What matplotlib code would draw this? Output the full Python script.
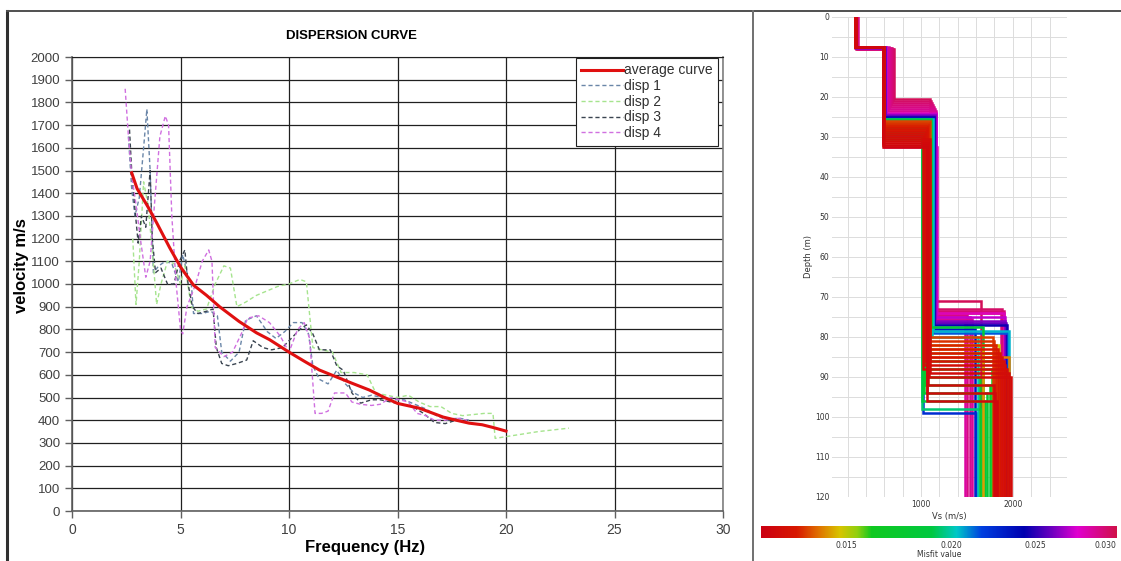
import numpy as np
import matplotlib
matplotlib.use('Agg')
import matplotlib.pyplot as plt
from matplotlib.colors import LinearSegmentedColormap
from matplotlib.lines import Line2D

plt.rcParams['font.family'] = ['Liberation Sans', 'DejaVu Sans']

# --- curva de dispersao (painel esquerdo) ---
f_avg = [2.75, 3.0, 3.5, 3.9, 4.5, 5.0, 5.6, 6.2, 6.8, 7.7, 8.5, 9.1, 10.0, 10.7, 11.4,
         12.2, 12.9, 13.7, 14.4, 15.0, 16.0, 17.1, 17.7, 18.3, 18.9, 19.4, 20.0]
v_avg = [1490, 1420, 1340, 1270, 1160, 1075, 995, 950, 900, 835, 785, 755, 700, 660, 621,
         590, 563, 533, 500, 474, 453, 414, 400, 387, 380, 368, 352]

f1 = [2.6, 2.75, 2.9, 3.1, 3.3, 3.45, 3.6, 3.75, 4.0, 4.3, 4.6, 4.9, 5.1, 5.3, 5.5, 5.6,
      6.0, 6.4, 6.7, 6.9, 7.3, 7.7, 8.0, 8.5, 9.0, 9.4, 9.8, 10.2, 10.6, 10.9, 11.1, 11.4,
      11.8, 12.2, 12.6, 13.0, 13.4, 13.8, 14.3, 14.8, 15.3, 15.8, 16.3, 16.8, 17.3, 17.8, 18.3]
v1 = [1650, 1420, 1300, 1380, 1600, 1770, 1500, 1050, 1080, 1100, 1090, 1010, 1130, 1050,
      1000, 870, 870, 880, 860, 700, 660, 700, 840, 860, 790, 760, 790, 830, 830, 780, 640,
      580, 560, 620, 560, 520, 500, 510, 500, 490, 490, 470, 450, 420, 400, 410, 400]

f2 = [2.8, 2.95, 3.1, 3.3, 3.5, 3.7, 3.9, 4.1, 4.4, 4.7, 5.0, 5.2, 5.5, 5.8, 6.2, 6.6, 7.0,
      7.3, 7.6, 8.0, 8.5, 9.0, 9.5, 10.0, 10.5, 10.8, 11.1, 11.5, 12.0, 12.4, 13.0, 13.6,
      14.0, 14.5, 15.0, 15.5, 16.0, 16.5, 17.0, 17.5, 18.0, 18.5, 19.0, 19.4, 19.5, 20.5,
      21.5, 22.9]
v2 = [1200, 910, 1100, 1450, 1350, 1150, 910, 1000, 1100, 1090, 1000, 1080, 900, 880, 890,
      1000, 1080, 1070, 900, 920, 950, 970, 990, 1000, 1020, 1010, 720, 710, 700, 610, 610,
      600, 520, 510, 500, 510, 480, 460, 460, 430, 420, 425, 430, 430, 320, 335, 350, 365]

f3 = [2.65, 2.75, 2.9, 3.05, 3.2, 3.4, 3.6, 3.7, 3.85, 4.1, 4.4, 4.7, 4.95, 5.2, 5.35, 5.55,
      5.8, 6.2, 6.5, 6.65, 6.9, 7.2, 7.6, 8.05, 8.35, 8.8, 9.2, 9.7, 10.1, 10.5, 10.8, 11.1,
      11.4, 11.9, 12.2, 12.5, 12.9, 13.3, 13.8, 14.2, 14.7, 15.2, 15.7, 16.2, 16.7, 17.2,
      17.7, 18.2]
v3 = [1680, 1500, 1330, 1180, 1300, 1250, 1500, 1200, 1050, 1070, 1000, 1000, 1100, 1150,
      1000, 900, 870, 880, 890, 720, 650, 640, 650, 665, 750, 720, 710, 720, 760, 800, 820,
      780, 710, 710, 640, 620, 520, 475, 490, 490, 480, 470, 460, 430, 390, 385, 400, 390]

f4 = [2.45, 2.6, 2.75, 2.95, 3.15, 3.4, 3.6, 3.8, 4.05, 4.3, 4.45, 4.6, 4.8, 5.0, 5.1, 5.3,
      5.7, 6.0, 6.3, 6.45, 6.6, 7.0, 7.4, 7.8, 8.1, 8.6, 9.1, 9.6, 10.0, 10.4, 10.7, 10.95,
      11.2, 11.5, 11.8, 12.1, 12.6, 12.9, 13.3, 13.8, 14.2, 14.7, 15.1, 15.5, 15.9, 16.3,
      16.7, 17.2, 17.7, 18.2]
v4 = [1860, 1650, 1480, 1350, 1200, 1030, 1100, 1350, 1650, 1740, 1700, 1300, 1000, 800,
      780, 900, 1000, 1100, 1150, 1100, 720, 680, 700, 780, 850, 860, 830, 770, 700, 800,
      830, 760, 430, 430, 440, 520, 520, 480, 470, 465, 470, 500, 490, 480, 430, 420, 400,
      400, 410, 400]

# --- perfis Vs (painel direito), 4 camadas ---
misfit = [0.0305, 0.0302, 0.0300, 0.0298, 0.0296, 0.0294, 0.0292, 0.0290,
          0.0285, 0.0275, 0.0265, 0.0260,
          0.0245, 0.0235, 0.0225, 0.0215,
          0.0205, 0.0200, 0.0195, 0.0190, 0.0185, 0.0180, 0.0175, 0.0170, 0.0165, 0.0160,
          0.0152, 0.0148, 0.0142, 0.0138,
          0.0132, 0.0130, 0.0128, 0.0126, 0.0124, 0.0123, 0.0122, 0.0121, 0.0120, 0.0119,
          0.0118, 0.0117, 0.0116, 0.0115]
vs1 = [300, 295, 290, 285, 310, 280, 292, 288, 285, 290, 295, 288, 290, 285, 292, 288,
       290, 285, 292, 288, 290, 285, 292, 288, 290, 285, 290, 288, 292, 285, 290, 288,
       292, 285, 290, 288, 292, 285, 290, 288, 292, 285, 290, 288]
d1 = [8.0, 7.9, 7.8, 7.7, 8.0, 7.6, 7.7, 7.5, 7.6, 7.6, 7.7, 7.5, 7.6, 7.5, 7.6, 7.5,
      7.6, 7.5, 7.6, 7.5, 7.6, 7.5, 7.6, 7.5, 7.6, 7.5, 7.6, 7.5, 7.6, 7.5, 7.6, 7.5,
      7.6, 7.5, 7.6, 7.5, 7.6, 7.5, 7.6, 7.5, 7.6, 7.5, 7.6, 7.5]
vs2 = [700, 690, 680, 670, 660, 650, 640, 600, 620, 615, 610, 605, 600, 600, 595, 600,
       598, 595, 590, 592, 595, 590, 588, 590, 585, 590, 592, 588, 590, 590, 590, 595,
       592, 590, 588, 590, 592, 590, 588, 590, 592, 590, 588, 590]
d2 = [20.5, 21.0, 21.5, 22.0, 22.5, 23.0, 23.5, 32.5, 24.0, 24.3, 24.6, 24.8, 25.0, 25.2,
      29.5, 25.4, 25.5, 26.0, 28.5, 29.0, 25.6, 28.0, 27.5, 27.0, 30.5, 26.5, 26.2, 26.8,
      27.2, 28.2, 26.0, 26.5, 27.0, 27.5, 28.0, 28.5, 29.0, 29.5, 30.0, 30.5, 31.0, 31.5,
      32.0, 32.5]
vs3 = [1100, 1110, 1120, 1130, 1140, 1150, 1160, 1170, 1165, 1160, 1150, 1145, 1140, 1135,
       1020, 1130, 1125, 1120, 1010, 1015, 1110, 1030, 1040, 1050, 1060, 1100, 1090, 1080,
       1070, 1060, 1100, 1090, 1080, 1070, 1060, 1050, 1040, 1030, 1020, 1100, 1090, 1080,
       1070, 1060]
d3 = [71.0, 73.0, 73.5, 74.0, 74.5, 75.0, 75.5, 76.0, 74.0, 75.0, 76.0, 76.5, 77.0, 78.0,
      99.0, 79.0, 78.5, 80.0, 98.0, 96.0, 77.5, 94.0, 92.0, 90.0, 88.0, 86.0, 84.0, 82.0,
      83.0, 85.0, 80.0, 81.0, 82.0, 83.0, 84.0, 85.0, 86.0, 87.0, 88.0, 89.0, 90.0, 92.0,
      94.0, 96.0]
vs4 = [1650, 1880, 1900, 1870, 1500, 1530, 1560, 1480, 1900, 1910, 1920, 1930, 1940, 1590,
       1600, 1950, 1960, 1620, 1650, 1700, 1680, 1720, 1750, 1640, 1770, 1800, 1820, 1850,
       1680, 1960, 1780, 1800, 1820, 1840, 1860, 1880, 1900, 1920, 1940, 1960, 1980, 1790,
       1810, 1830]

cb_vals = [0.011, 0.015, 0.020, 0.025, 0.030, 0.0308]
cb_pos = [0.0, 0.24, 0.536, 0.77, 0.967, 1.0]
cb_labels = ['0.015', '0.020', '0.025', '0.030']

cmap = LinearSegmentedColormap.from_list('misfit', [
    (0.0, '#cc0012'), (0.10, '#d81800'), (0.16, '#e07000'), (0.22, '#d8c400'),
    (0.27, '#90d010'), (0.31, '#10c820'), (0.48, '#00c840'), (0.55, '#00c8c8'),
    (0.62, '#0040e0'), (0.74, '#0000b0'), (0.82, '#7000c0'), (0.89, '#e000d0'),
    (1.0, '#d0104a')])

fig = plt.figure(figsize=(11.21, 5.61), dpi=100)

# molduras
fig.add_artist(Line2D([7 / 1121, 7 / 1121], [0, 1 - 11 / 561], color='#303030', lw=2.2))
fig.add_artist(Line2D([7 / 1121, 1], [1 - 11 / 561, 1 - 11 / 561], color='#505050', lw=1.4))
fig.add_artist(Line2D([753 / 1121, 753 / 1121], [0, 1 - 11 / 561], color='#707070', lw=1.4))

ax = fig.add_axes([72 / 1121, 1 - 511 / 561, 651 / 1121, 454 / 561])
ax.plot(f_avg, v_avg, color='#e01010', lw=2.2, label='average curve', zorder=5)
ax.plot(f1, v1, color='#6a86a8', lw=1.0, ls=(0, (3, 2)), label='disp 1')
ax.plot(f2, v2, color='#a6e48e', lw=1.0, ls=(0, (3, 2)), label='disp 2')
ax.plot(f3, v3, color='#3a4450', lw=1.0, ls=(0, (3, 2)), label='disp 3')
ax.plot(f4, v4, color='#d070e0', lw=1.0, ls=(0, (3, 2)), label='disp 4')
ax.set_xlim(0, 30)
ax.set_ylim(0, 2000)
ax.set_xticks(range(0, 31, 5))
ax.set_yticks(range(0, 2001, 100))
ax.grid(True, color='#202020', lw=0.9)
ax.set_axisbelow(True)
for s in ['left', 'bottom']:
    ax.spines[s].set_color('#606060')
    ax.spines[s].set_linewidth(1.2)
ax.spines['top'].set_color('#202020')
ax.spines['right'].set_color('#808080')
ax.spines['right'].set_linewidth(1.2)
ax.tick_params(labelsize=9.5, labelcolor='#404040', color='#606060', length=5, width=1)
ax.tick_params(axis='x', labelsize=10)
ax.set_title('DISPERSION CURVE', fontsize=9.5, fontweight='bold', x=0.43, pad=13)
ax.set_xlabel('Frequency (Hz)', fontsize=12, fontweight='bold')
ax.xaxis.set_label_coords(0.45, -0.063)
ax.set_ylabel('velocity m/s', fontsize=12, fontweight='bold')
ax.yaxis.set_label_coords(-0.066, 0.54)
leg = ax.legend(loc='upper right', bbox_to_anchor=(0.993, 0.998), borderaxespad=0,
                fontsize=10, handlelength=3.0, handletextpad=0.1, labelspacing=0.12,
                borderpad=0.4, fancybox=False, framealpha=1)
leg.get_frame().set_edgecolor('#202020')
leg.get_frame().set_linewidth(0.8)
for t in leg.get_texts():
    t.set_color('#303030')

# perfis
ax2 = fig.add_axes([832 / 1121, 1 - 497 / 561, 235 / 1121, 480 / 561])
pos = np.interp(misfit, cb_vals, cb_pos)
for i in range(len(misfit)):
    zz = [0, d1[i], d1[i], d2[i], d2[i], d3[i], d3[i], 120]
    vv = [vs1[i], vs1[i], vs2[i], vs2[i], vs3[i], vs3[i], vs4[i], vs4[i]]
    ax2.plot(vv, zz, color=cmap(pos[i]), lw=1.8, solid_joinstyle='miter')
ax2.set_xlim(30, 2590)
ax2.set_ylim(120, 0)
ax2.set_xticks([1000, 2000])
ax2.set_xticks(np.arange(200, 2590, 200), minor=True)
ax2.set_yticks(range(0, 121, 10))
ax2.set_yticks(range(5, 120, 10), minor=True)
ax2.grid(True, which='both', color='#dcdcdc', lw=0.7)
ax2.set_axisbelow(True)
for s in ax2.spines.values():
    s.set_visible(False)
ax2.tick_params(which='both', length=0, labelsize=5.5, labelcolor='#333333', pad=2)
ax2.set_xlabel('Vs (m/s)', fontsize=6, color='#333333', labelpad=2)
ax2.set_ylabel('Depth (m)', fontsize=6, color='#333333', labelpad=1)
for lab in ax2.get_xticklabels() + ax2.get_yticklabels():
    lab.set_family('DejaVu Sans')
ax2.xaxis.label.set_family('DejaVu Sans')
ax2.yaxis.label.set_family('DejaVu Sans')

# barra de cores
cax = fig.add_axes([761 / 1121, 1 - 538 / 561, 356 / 1121, 12 / 561])
cax.imshow(np.linspace(0, 1, 256)[None, :], cmap=cmap, aspect='auto', extent=[0, 1, 0, 1])
cax.set_xlim(0, 1)
cax.set_yticks([])
cax.set_xticks(cb_pos[1:5])
cax.set_xticklabels(cb_labels, family='DejaVu Sans')
cax.tick_params(length=0, labelsize=5.5, labelcolor='#333333', pad=2)
for s in cax.spines.values():
    s.set_visible(False)
cax.set_xlabel('Misfit value', fontsize=5.5, color='#333333', labelpad=0, family='DejaVu Sans')

fig.savefig('out.png', dpi=100)
